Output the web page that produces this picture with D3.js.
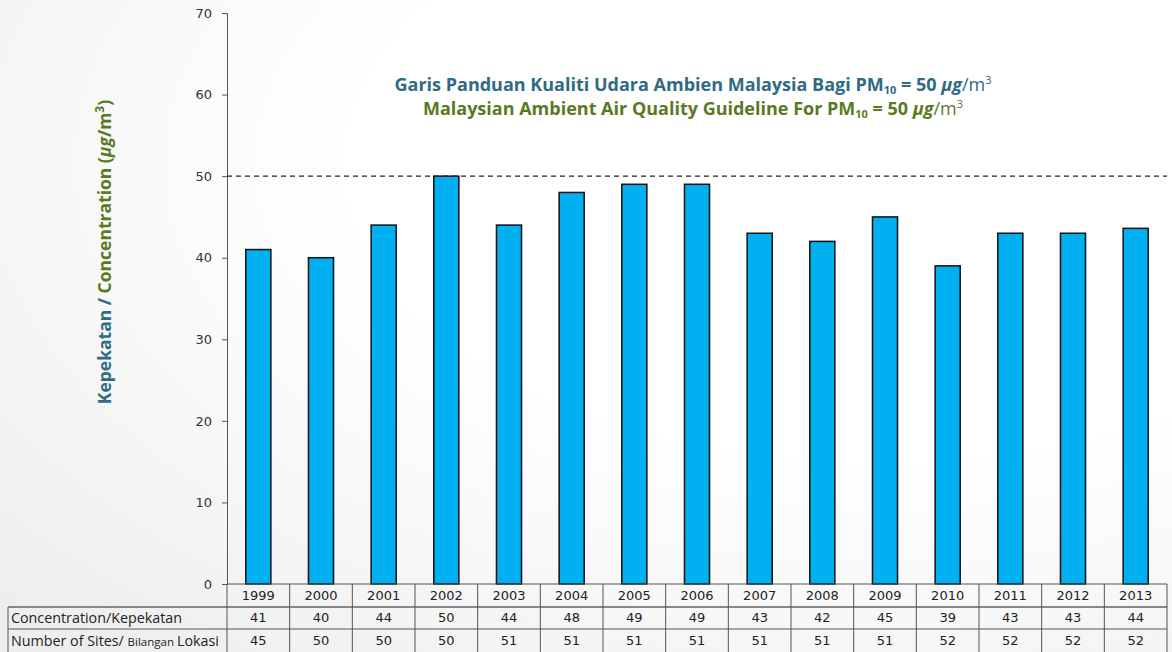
<!DOCTYPE html>
<html>
<head>
<meta charset="utf-8">
<style>
  body { margin: 0; }
  svg { display: block; }
</style>
</head>
<body>
<svg width="1172" height="652"></svg>
<script src="https://d3js.org/d3.v7.min.js"></script>
<script>

var years = ["1999","2000","2001","2002","2003","2004","2005","2006","2007","2008","2009","2010","2011","2012","2013"];
var concentration = [41, 40, 44, 50, 44, 48, 49, 49, 43, 42, 45, 39, 43, 43, 43.6];
var concLabels = ["41","40","44","50","44","48","49","49","43","42","45","39","43","43","44"];
var sites = ["45","50","50","50","51","51","51","51","51","51","51","52","52","52","52"];
var yTicks = [0, 10, 20, 30, 40, 50, 60, 70];
var guideline = 50;

var svg = d3.select("svg"),
    width = +svg.attr("width"),
    height = +svg.attr("height");

var plotLeft = 227, plotRight = 1167, plotTop = 13, plotBottom = 584;

// faint background shading
var defs = svg.append("defs");
var grad = defs.append("radialGradient").attr("id", "bg")
    .attr("cx", "0.75").attr("cy", "0.25").attr("r", "1");
grad.append("stop").attr("offset", "0.45").attr("stop-color", "#ffffff");
grad.append("stop").attr("offset", "1").attr("stop-color", "#eeeeee");
svg.append("rect").attr("width", width).attr("height", height).attr("fill", "url(#bg)");

var x = d3.scaleBand().domain(years).range([plotLeft, plotRight]).paddingInner(0.6).paddingOuter(0.3);
var y = d3.scaleLinear().domain([0, 70]).range([plotBottom, plotTop]);

// y axis
var yAxis = svg.append("g")
    .attr("transform", "translate(" + plotLeft + ",0)")
    .call(d3.axisLeft(y).tickValues(yTicks).tickSize(5).tickPadding(10));
yAxis.select(".domain").attr("stroke", "#555");
yAxis.selectAll(".tick line").attr("stroke", "#555");
yAxis.selectAll(".tick text")
    .attr("font-family", "DejaVu Sans, sans-serif")
    .attr("font-size", 13)
    .attr("fill", "#333");

// bars
svg.append("g").selectAll("rect")
    .data(years)
    .enter().append("rect")
      .attr("x", function(d) { return x(d); })
      .attr("y", function(d, i) { return y(concentration[i]); })
      .attr("width", x.bandwidth())
      .attr("height", function(d, i) { return y(0) - y(concentration[i]); })
      .attr("fill", "#00b0f0")
      .attr("stroke", "#111")
      .attr("stroke-width", 1.5);

// guideline
svg.append("line")
    .attr("x1", plotLeft).attr("x2", plotRight)
    .attr("y1", y(guideline)).attr("y2", y(guideline))
    .attr("stroke", "#222")
    .attr("stroke-width", 1.2)
    .attr("stroke-dasharray", "5,4");

// titles
var title = svg.append("g")
    .attr("font-family", "Open Sans, sans-serif")
    .attr("font-weight", "bold")
    .attr("font-size", 18)
    .attr("text-anchor", "middle");

function titleLine(yy, txt, col) {
  var t = title.append("text").attr("x", 693).attr("y", yy).attr("fill", col);
  t.append("tspan").text(txt + " PM");
  t.append("tspan").attr("font-size", 11).attr("dy", 3).text("10");
  t.append("tspan").attr("dy", -3).text(" = 50 ");
  t.append("tspan").attr("font-style", "italic").text("µg");
  t.append("tspan").attr("font-weight", "normal").text("/m");
  t.append("tspan").attr("font-weight", "normal").attr("font-size", 11).attr("dy", -7).text("3");
}
titleLine(91, "Garis Panduan Kualiti Udara Ambien Malaysia Bagi", "#2f6b82");
titleLine(115, "Malaysian Ambient Air Quality Guideline For", "#5b7a1f");

// y axis label
var yl = svg.append("text")
    .attr("transform", "translate(111,252) rotate(-90)")
    .attr("text-anchor", "middle")
    .attr("font-family", "Open Sans, sans-serif")
    .attr("font-weight", "bold")
    .attr("font-size", 17.5);
yl.append("tspan").attr("fill", "#2f6b82").text("Kepekatan / ");
yl.append("tspan").attr("fill", "#5b7a1f").text("Concentration (");
yl.append("tspan").attr("fill", "#5b7a1f").attr("font-style", "italic").text("µg");
yl.append("tspan").attr("fill", "#5b7a1f").text("/m");
yl.append("tspan").attr("fill", "#5b7a1f").attr("font-size", 12).attr("dy", -7).text("3");
yl.append("tspan").attr("fill", "#5b7a1f").attr("dy", 7).text(")");

// data table
var row1 = 607, row2 = 629, tableLeft = 8;
var step = x.step();
var table = svg.append("g").attr("stroke", "#555").attr("stroke-width", 1);

table.append("line").attr("x1", plotLeft).attr("x2", plotRight).attr("y1", plotBottom).attr("y2", plotBottom);
table.append("line").attr("x1", tableLeft).attr("x2", plotRight).attr("y1", row1).attr("y2", row1).attr("stroke", "#888").attr("stroke-width", 2);
table.append("line").attr("x1", tableLeft).attr("x2", plotRight).attr("y1", row2).attr("y2", row2);
table.append("line").attr("x1", tableLeft).attr("x2", tableLeft).attr("y1", row1).attr("y2", height);
table.selectAll(".vline")
    .data(years.concat(["end"]))
    .enter().append("line")
      .attr("x1", function(d, i) { return plotLeft + i * step; })
      .attr("x2", function(d, i) { return plotLeft + i * step; })
      .attr("y1", plotBottom).attr("y2", height);

var cells = svg.append("g")
    .attr("font-family", "DejaVu Sans, sans-serif")
    .attr("font-size", 13)
    .attr("fill", "#222")
    .attr("text-anchor", "middle");

function cellRow(vals, yy) {
  cells.append("g").selectAll("text")
      .data(vals)
      .enter().append("text")
        .attr("x", function(d, i) { return x(years[i]) + x.bandwidth() / 2; })
        .attr("y", yy)
        .text(function(d) { return d; });
}
cellRow(years, 600);
cellRow(concLabels, 622);
cellRow(sites, 645);

var lab = svg.append("g")
    .attr("font-family", "Open Sans, sans-serif")
    .attr("font-size", 14.3)
    .attr("fill", "#222");
lab.append("text").attr("x", 11).attr("y", 623).text("Concentration/Kepekatan");
var l2 = lab.append("text").attr("x", 11).attr("y", 646);
l2.append("tspan").text("Number of Sites/ ");
l2.append("tspan").attr("font-size", 11.5).text("Bilangan ");
l2.append("tspan").text("Lokasi");

</script>
</body>
</html>
